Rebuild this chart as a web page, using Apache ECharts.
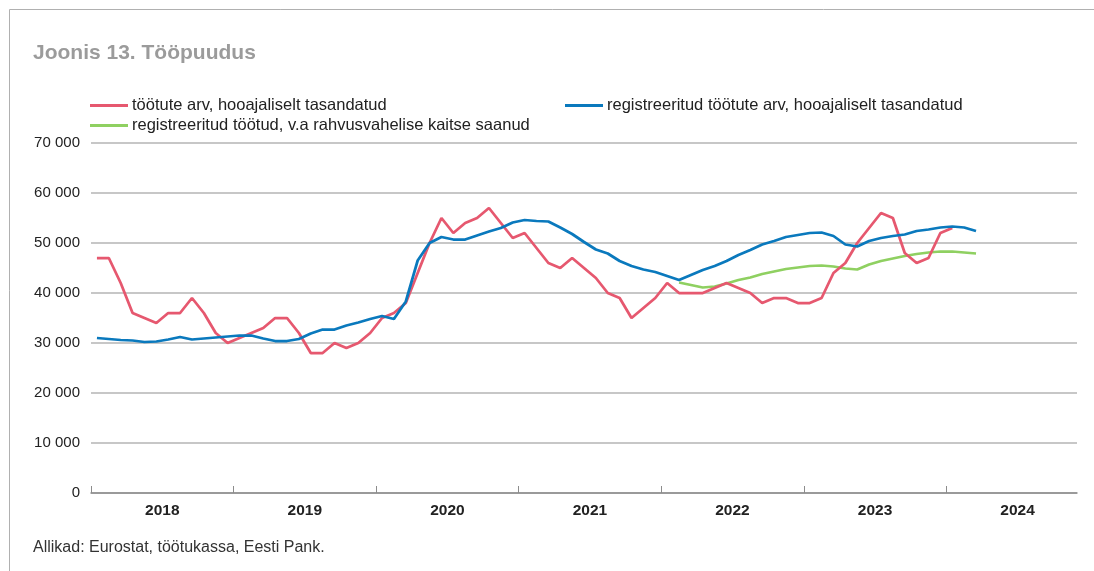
<!DOCTYPE html>
<html><head><meta charset="utf-8">
<script src="https://cdn.jsdelivr.net/npm/echarts@6/dist/echarts.min.js"></script>
<style>html,body{margin:0;padding:0;background:#fff}#c{width:1094px;height:571px}</style>
</head><body><div id="c"></div>
<script>
// ---- data (monthly values) ----
const years = ['2018', '2019', '2020', '2021', '2022', '2023', '2024'];
const seriesNames = [
  'töötute arv, hooajaliselt tasandatud',
  'registreeritud töötute arv, hooajaliselt tasandatud',
  'registreeritud töötud, v.a rahvusvahelise kaitse saanud'
];
// töötute arv (Jan 2018 ->)
const unemployed = [
  47000, 47000, 42000, 36000, 35000, 34000, 36000, 36000, 39000, 36000, 32000, 30000,
  31000, 32000, 33000, 35000, 35000, 32000, 28000, 28000, 30000, 29000, 30000, 32000,
  35000, 36000, 38000, 44000, 50000, 55000, 52000, 54000, 55000, 57000, 54000, 51000,
  52000, 49000, 46000, 45000, 47000, 45000, 43000, 40000, 39000, 35000, 37000, 39000,
  42000, 40000, 40000, 40000, 41000, 42000, 41000, 40000, 38000, 39000, 39000, 38000,
  38000, 39000, 44000, 46000, 50000, 53000, 56000, 55000, 48000, 46000, 47000, 52000,
  53000
];
// registreeritud töötute arv (Jan 2018 ->)
const registered = [
  31000, 30800, 30600, 30500, 30200, 30300, 30700, 31200, 30700, 30900, 31100, 31300,
  31500, 31500, 30900, 30400, 30400, 30800, 31900, 32700, 32700, 33500, 34100, 34800,
  35400, 34800, 38300, 46500, 50000, 51200, 50700, 50700, 51500, 52300, 53000, 54100,
  54600, 54400, 54300, 53100, 51800, 50200, 48700, 47900, 46400, 45400, 44700, 44200,
  43400, 42600, 43600, 44600, 45400, 46400, 47600, 48600, 49700, 50400, 51200, 51600,
  52000, 52100, 51400, 49700, 49300, 50400, 51000, 51400, 51700, 52400, 52700, 53100,
  53300, 53100, 52400
];
// registreeritud töötud, v.a rahvusvahelise kaitse saanud (Feb 2022 ->)
const registeredExclStartMonth = 49; // months after Jan 2018
const registeredExcl = [
  42100, 41600, 41100, 41300, 41900, 42600, 43100, 43800, 44300, 44800, 45100,
  45400, 45500, 45300, 44900, 44700, 45700, 46400, 46900, 47400, 47800, 48100,
  48300, 48300, 48100, 47900
];
const yTicks = [0, 10000, 20000, 30000, 40000, 50000, 60000, 70000];

// ---- build ----
const toPts = (arr, start) => arr.map((v, i) => [start + i + 0.5, v]);
const colors = ['#e6586f', '#0a79bd', '#8fd061'];
const font = 'Liberation Sans';
const chart = echarts.init(document.getElementById('c'), null, {renderer: 'canvas'});
const legendBase = {
  icon: 'rect', itemWidth: 38, itemHeight: 3, itemGap: 20, padding: 0,
  textStyle: {fontSize: 16.5, color: '#222', fontFamily: font, padding: [0, 0, 0, -1]}
};
chart.setOption({
  animation: false,
  backgroundColor: '#fff',
  color: colors,
  title: {
    text: 'Joonis 13. Tööpuudus', left: 33, top: 43, padding: 0,
    textStyle: {fontSize: 21, fontWeight: 'bold', color: '#9b9b9b', fontFamily: font}
  },
  legend: [
    Object.assign({}, legendBase, {data: [seriesNames[0]], left: 90, top: 97}),
    Object.assign({}, legendBase, {data: [seriesNames[1]], left: 565, top: 97}),
    Object.assign({}, legendBase, {data: [seriesNames[2]], left: 90, top: 117})
  ],
  grid: {left: 91, right: 17, top: 143, bottom: 78, containLabel: false},
  xAxis: {
    type: 'value', min: 0, max: 83,
    splitLine: {show: false},
    axisLine: {show: true, lineStyle: {color: '#8c8c8c', width: 1.5}},
    axisTick: {show: true, inside: true, length: 7, lineStyle: {color: '#8c8c8c', width: 1},
      customValues: years.map((y, i) => i * 12)},
    axisLabel: {
      customValues: years.map((y, i) => i * 12 + 6),
      formatter: v => years[Math.round((v - 6) / 12)],
      fontSize: 15.5, fontWeight: 'bold', color: '#222', fontFamily: font, margin: 10
    }
  },
  yAxis: {
    type: 'value', min: 0, max: 70000, interval: 10000,
    axisLine: {show: false}, axisTick: {show: false},
    axisLabel: {
      customValues: yTicks,
      formatter: v => v === 0 ? '0' : String(v).replace(/\B(?=(\d{3})+(?!\d))/g, ' '),
      fontSize: 15, color: '#222', fontFamily: font, margin: 11
    },
    splitLine: {lineStyle: {color: '#b4b4b4', width: 1.5}}
  },
  series: [
    {name: seriesNames[0], type: 'line', data: toPts(unemployed, 0), showSymbol: false,
      lineStyle: {width: 2.75, color: colors[0]}, itemStyle: {color: colors[0]}, z: 3},
    {name: seriesNames[1], type: 'line', data: toPts(registered, 0), showSymbol: false,
      lineStyle: {width: 2.75, color: colors[1]}, itemStyle: {color: colors[1]}, z: 4},
    {name: seriesNames[2], type: 'line', data: toPts(registeredExcl, registeredExclStartMonth), showSymbol: false,
      lineStyle: {width: 2.75, color: colors[2]}, itemStyle: {color: colors[2]}, z: 2}
  ],
  graphic: [
    {type: 'rect', shape: {x: 9.5, y: 9.5, width: 1200, height: 700},
      style: {fill: 'none', stroke: '#b0b0b0', lineWidth: 1}, silent: true, z: -1},
    {type: 'text', x: 33, y: 548,
      style: {text: 'Allikad: Eurostat, töötukassa, Eesti Pank.', fill: '#333',
        font: '16px "Liberation Sans"', verticalAlign: 'middle'}}
  ]
});
</script></body></html>
